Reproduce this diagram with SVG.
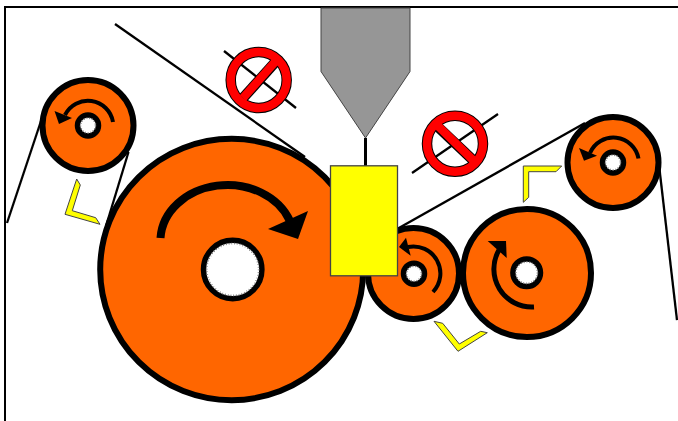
<svg xmlns="http://www.w3.org/2000/svg" width="678" height="421" viewBox="0 0 678 421">
<style>
.wheel{fill:#ff6600;stroke:#000;stroke-width:6}
.hub{fill:#fff;stroke:#000;stroke-width:5.500}
.speck{fill:none;stroke:#777;stroke-width:1.800;stroke-dasharray:.8 2}
.belt{fill:none;stroke:#000;stroke-width:2.300}
.rot{fill:none;stroke:#000;stroke-width:4}
.head{fill:#000}
.mark{fill:#ffff00;stroke:#444;stroke-width:1}
.ring{fill:none;stroke:#000;stroke-width:10.500}
.ringr{fill:none;stroke:#ff0000;stroke-width:8.500}
</style>
<rect width="678" height="421" fill="#fff"/>
<path d="M5 421V7H678" fill="none" stroke="#000" stroke-width="2"/>
<g id="connectors">
<path class="belt" d="M7 223L42 118"/>
<path class="belt" d="M128.500 152L106 226"/>
<path class="belt" d="M115 24L305 157"/>
<path class="belt" d="M224 51L296 108"/>
<path class="belt" d="M412 173L498 114"/>
<path class="belt" d="M398 228.500L585 123"/>
<path class="belt" d="M659 165L677 320"/>
<path d="M365.500 138V167" fill="none" stroke="#000" stroke-width="3"/>
</g>
<g id="wheel-large">
<ellipse class="wheel" cx="231.700" cy="269.500" rx="131.500" ry="130.700"/>
<circle class="hub" cx="232.700" cy="269.500" r="29.200"/>
<circle class="speck" cx="232.700" cy="269.500" r="26"/>
<path d="M160.500 238A67 56 0 0 1 290 221" fill="none" stroke="#000" stroke-width="8"/>
<polygon class="head" points="308,211 268,229 298,239"/>
</g>
<g id="wheel-left">
<circle class="wheel" cx="88" cy="125.500" r="45.500"/>
<circle class="hub" cx="88" cy="125.500" r="10.500"/>
<circle class="speck" cx="88" cy="125.500" r="7.500"/>
<path class="rot" d="M113 122A25.500 25.500 0 0 0 65 115"/>
<polygon class="head" points="54.500,111 59,124 72,118"/>
</g>
<g id="wheel-middle">
<circle class="wheel" cx="413.500" cy="273.500" r="45.500"/>
<circle class="hub" cx="414" cy="273.700" r="10.500"/>
<circle class="speck" cx="414" cy="273.700" r="7.500"/>
<path class="rot" d="M433 292A27 27 0 0 0 408 247"/>
<polygon class="head" points="406,237.700 399,247 410.700,255.700"/>
</g>
<g id="wheel-right-large">
<circle class="wheel" cx="527" cy="273" r="64"/>
<circle class="hub" cx="526.700" cy="272.700" r="13.800"/>
<circle class="speck" cx="526.700" cy="272.700" r="10.800"/>
<path class="rot" d="M534 307A38 38 0 0 1 499 250" style="stroke-width:5"/>
<polygon class="head" points="487.700,241 506,241 506.700,258"/>
</g>
<g id="wheel-right-top">
<circle class="wheel" cx="613" cy="162.500" r="45.500"/>
<circle class="hub" cx="613" cy="162.500" r="10.500"/>
<circle class="speck" cx="613" cy="162.500" r="7.500"/>
<path class="rot" d="M638.500 158.500A25.500 25.500 0 0 0 590 153"/>
<polygon class="head" points="579,148 584,160.700 597,155.700"/>
</g>
<g id="hopper">
<polygon points="321,8 410,8 410,71.500 365.500,138 321,71.500" fill="#969696" stroke="#444" stroke-width="1"/>
</g>
<g id="block">
<rect x="330.500" y="165.800" width="67" height="110" fill="#ffff00" stroke="#444" stroke-width="1.300"/>
</g>
<g id="no-sign-left">
<circle class="ring" cx="258.700" cy="80" r="28"/>
<path d="M243 98L274.500 63" stroke="#000" stroke-width="10.500" fill="none"/>
<circle class="ringr" cx="258.700" cy="80" r="28"/>
<path d="M243 98L275 62" stroke="#f00" stroke-width="8.500" fill="none"/>
</g>
<g id="no-sign-right">
<circle class="ring" cx="455" cy="143.700" r="28"/>
<path d="M437 126L475 162" stroke="#000" stroke-width="10.500" fill="none"/>
<circle class="ringr" cx="455" cy="143.700" r="28"/>
<path d="M437 125L476 163" stroke="#f00" stroke-width="8.500" fill="none"/>
</g>
<g id="mark-left">
<polygon class="mark" points="76.700,179 80.300,185 72.300,210.700 95.700,217.700 100,224.300 65,214.300"/>
</g>
<g id="mark-top">
<polygon class="mark" points="523.300,166 561.700,166 556,171.700 528.700,171.700 528.700,197.300 523.300,202.300"/>
</g>
<g id="mark-bottom">
<polygon class="mark" points="434,321.300 442.700,323.300 459.300,344 480.700,331.300 487.300,332.700 458,351.300"/>
</g>
</svg>
